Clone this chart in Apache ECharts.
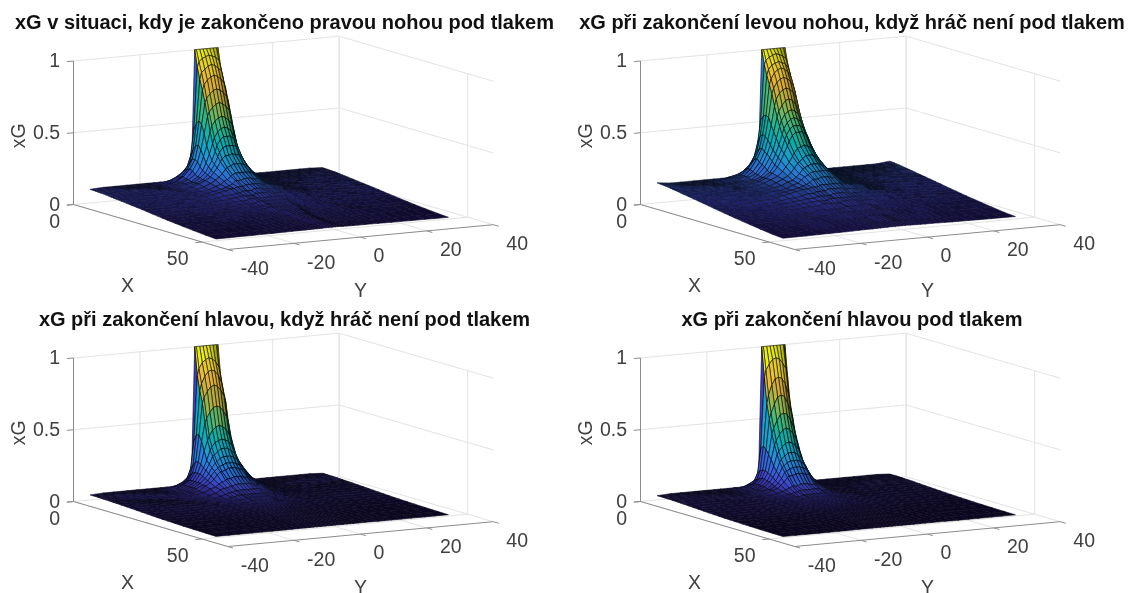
<!DOCTYPE html>
<html><head><meta charset="utf-8">
<style>html,body{margin:0;padding:0;background:#fff}#c{width:1128px;height:593px}</style>
<script src="https://cdn.jsdelivr.net/npm/echarts@6/dist/echarts.min.js"></script>
</head><body><div id="c"></div>
<script>
const titles=["xG v situaci, kdy je zakončeno pravou nohou pod tlakem","xG při zakončení levou nohou, když hráč není pod tlakem","xG při zakončení hlavou, když hráč není pod tlakem","xG při zakončení hlavou pod tlakem"];
const xTicks=[0,50], yTicks=[-40,-20,0,20,40], zTicks=[0,0.5,1];
const zTickLabels=["0","0.5","1"];
const xRows=[0,1,2,3,4,5,6,7,8,9,10,12,14,16,18,20,22,24,26,28,30,33,36,40,45,49];
const yCols=[0,1,2,3,3.5,4.5,5.5,6.5,8,10,12,14,16,18,21,24,28,31,35];
// xG in percent, row = X, column = |Y|
const zRightFootPressure=[
[100,100,100,100,100,14,13,12,11,10,10,10,10,10,10,10,10,10,9.5],
[96,95,94,92,88,45,27,20,16,13,11,10,10,10,10,10,10,10,9.4],
[90,89,87,85,80,50,32,23,18,14,12,11,10,10,10,10,10,10,9.3],
[83,82,80,77,73,52,35,26,19,14,11,10,10,10,10,10,10,10,9.2],
[74,73,71,68,65,50,36,26,20,15,12,11,10,10,10,10,10,10,9.1],
[65,64,62,59,56,44,33,25,19,14,12,11,10,10,10,10,10,10,9],
[56,55,53,50,46,36,29,22,17,14,12,11,10,10,10,10,10,9,8.8],
[49,48,46,42,38,31,25,20,16,13,12,11,10,10,10,10,10,9,8.6],
[43,43,41,37,33,27,23,19,16,13,12,11,10,10,10,10,9,9,8.4],
[37,37,36,33,30,25,21,18,15,13,11,10,10,10,10,9,9,9,8.2],
[32,31,31,29,27,23,20,17,15,13,11,10,10,10,10,9,9,9,8],
[26,26,25,24,23,20,18,16,14,12,11,10,10,10,9,9,9,8,7.6],
[21,21,21,20,19,17,16,14,13,11,10,10,9,9,9,8,8,8,7.2],
[18,18,17,17,17,15,14,13,12,11,10,9,9,9,8,8,8,7,6.8],
[15,15,15,14,14,14,13,13,12,11,10,9,9,8,8,7,7,7,6.4],
[13,13,12,12,12,12,11,11,10,10,9,8,8,8,7,7,6,6,6],
[11,11,11,10,10,10,10,10,9,9,8,8,7,7,7,6,6,6,5.5],
[9,9,9,9,9,9,9,8,8,8,7,7,7,6,6,6,5,5,5],
[8,8,8,8,8,8,7,7,7,7,6,6,6,6,5,5,5,5,4.6],
[7,7,7,7,7,6,6,6,6,6,6,5,5,5,5,5,4,4,4.1],
[6,6,6,6,6,6,5,5,5,5,5,5,5,4,4,4,4,4,3.7],
[5,5,5,5,4,4,4,4,4,4,4,4,4,4,3,3,3,3,3.1],
[4,4,4,3,3,3,3,3,3,3,3,3,3,3,3,3,3,3,2.5],
[3,3,3,2,2,2,2,2,2,2,2,2,2,2,2,2,2,2,1.8],
[2,2,2,1.5,1.5,1.5,1.5,1.4,1.4,1.4,1.3,1.3,1.3,1.2,1.2,1.2,1.1,1.1,1],
[1.2,1.2,1.2,1.1,1.1,1,1,1,.9,.9,.9,.8,.8,.7,.7,.6,.6,.5,.5]];
const zLeftFootFree=[
[100,100,100,100,100,20,18,16,15,14,14,13,13,13,13,13,13,13,14],
[97,96,95,93,90,52,36,27,21,17,15,14,13,13,13,13,13,13,13.9],
[92,91,90,87,83,55,41,31,24,19,16,14,14,13,13,13,13,13,13.7],
[88,87,85,81,77,56,43,33,26,20,16,15,14,13,13,13,13,13,13.5],
[82,81,79,75,71,55,42,34,27,20,16,15,14,13,13,13,13,13,13.3],
[75,74,72,68,63,50,40,32,25,19,16,15,14,13,13,13,13,13,13],
[68,67,64,60,56,46,37,31,24,18,16,14,14,13,13,13,13,13,12.7],
[61,60,58,54,50,42,34,29,23,18,15,14,14,13,13,13,13,13,12.4],
[56,55,53,49,45,38,32,27,21,17,15,14,14,13,13,13,13,12,12.1],
[51,51,49,45,42,35,30,25,20,17,15,14,13,13,13,13,12,12,11.8],
[47,47,45,41,38,33,28,24,20,17,15,14,13,13,13,13,12,12,11.5],
[39,38,37,34,32,28,25,22,19,17,15,14,13,12,12,12,12,11,10.9],
[33,33,31,29,28,25,22,20,18,16,14,13,13,12,12,12,11,11,10.3],
[28,28,27,26,25,22,20,18,17,15,14,13,12,12,12,11,11,10,9.7],
[24,24,24,23,22,21,19,17,16,14,13,13,12,11,11,11,10,10,9.1],
[21,21,20,20,20,18,17,16,15,14,13,12,11,11,10,10,9,9,8.5],
[17,17,17,17,16,16,16,15,15,14,13,12,11,10,10,9,8,8,7.8],
[15,15,15,14,14,14,14,13,13,12,11,11,10,9,9,8,8,7,7.2],
[13,13,13,12,12,12,12,12,11,11,10,10,9,9,8,8,7,7,6.6],
[11,11,11,11,11,11,10,10,10,10,9,9,8,8,7,7,6,6,6],
[10,10,10,9,9,9,9,9,9,8,8,8,7,7,7,6,6,6,5.4],
[8,8,8,8,8,7,7,7,7,7,7,6,6,6,6,5,5,5,4.6],
[6,6,6,6,6,6,6,6,6,5,5,5,5,5,5,4,4,4,3.8],
[5,5,5,4,4,4,4,4,4,4,4,4,4,4,3,3,3,3,2.8],
[3,3,3,3,3,3,3,3,3,2.8,2.6,2.5,2.4,2.3,2.2,2,1.9,1.8,1.6],
[2,2,2,2,1.9,1.9,1.8,1.8,1.7,1.7,1.6,1.5,1.4,1.4,1.3,1.2,1.1,1.1,1]];
const zHeaderFree=[
[100,100,100,100,100,7,6,5,4,4,4,4,4,4,4,4,4,4,3.5],
[92,91,89,85,80,35,16,10,7,5,4,4,4,4,4,4,4,4,3.5],
[84,83,80,75,70,40,19,12,8,6,5,4,4,4,4,4,4,4,3.5],
[74,73,70,66,62,40,22,14,9,6,5,4,4,4,4,4,4,4,3.4],
[60,59,56,52,49,36,22,15,10,7,5,4,4,4,4,4,4,4,3.4],
[47,46,44,40,37,30,21,15,10,7,5,4,4,4,4,4,4,4,3.3],
[38,37,36,33,31,24,19,15,10,7,5,4,4,4,4,4,4,3,3.3],
[32,32,30,28,27,22,18,14,10,7,5,4,4,4,4,4,3,3,3.2],
[27,27,26,24,23,20,16,13,10,7,5,4,4,4,4,3,3,3,3.1],
[23,23,22,21,20,18,15,12,9,7,5,4,4,4,3,3,3,3,3],
[20,20,19,18,18,16,13,11,9,6,5,4,4,3,3,3,3,3,3],
[15,15,14,14,13,12,11,9,8,6,5,4,3,3,3,3,3,3,2.8],
[11,11,11,10,10,9,9,8,6,5,4,4,3,3,3,3,3,3,2.6],
[8,8,8,8,8,7,7,6,5,4,4,3,3,3,3,3,3,2.6,2.4],
[6,6,6,6,6,6,5,5,4,4,3,3,3,3,2.8,2.7,2.6,2.4,2.2],
[5,5,5,5,5,4,4,4,4,3,3,3,3,2.6,2.5,2.4,2.3,2.2,2],
[4,4,4,4,4,3,3,3,3,3,2.8,2.6,2.5,2.4,2.3,2.2,2.1,2,1.8],
[3,3,3,3,3,3,3,3,2.6,2.5,2.4,2.3,2.2,2.1,2,1.9,1.8,1.7,1.6],
[2.6,2.6,2.6,2.5,2.5,2.4,2.4,2.3,2.2,2.2,2.1,2,1.9,1.8,1.7,1.6,1.5,1.5,1.4],
[2.2,2.2,2.2,2.1,2.1,2.1,2,2,1.9,1.9,1.8,1.7,1.7,1.6,1.5,1.4,1.3,1.3,1.2],
[1.9,1.9,1.9,1.8,1.8,1.8,1.7,1.7,1.6,1.6,1.5,1.5,1.4,1.4,1.3,1.2,1.2,1.1,1.1],
[1.5,1.5,1.5,1.5,1.4,1.4,1.4,1.4,1.3,1.3,1.2,1.2,1.2,1.1,1.1,1,1,.9,.9],
[1.1,1.1,1.1,1.1,1.1,1.1,1,1,1,1,1,.9,.9,.9,.8,.8,.8,.7,.7],
[.8,.8,.8,.8,.8,.8,.8,.7,.7,.7,.7,.7,.6,.6,.6,.6,.5,.5,.5],
[.5,.5,.5,.5,.5,.5,.5,.4,.4,.4,.4,.4,.4,.4,.4,.3,.3,.3,.3],
[.3,.3,.3,.3,.3,.3,.3,.3,.3,.3,.3,.2,.2,.2,.2,.2,.2,.2,.2]];
const zHeaderPressure=[
[100,100,100,100,100,6,5,4,4,3.5,3.5,3.5,3.5,3.5,3.5,3.5,3.5,3.5,3],
[92,91,88,84,79,30,13,8,6,4,4,3.5,3.5,3.5,3.5,3.5,3.5,3.5,3],
[79,78,74,67,61,32,15,9,6,5,4,3.5,3.5,3.5,3.5,3.5,3.5,3.5,3],
[67,66,61,55,51,30,16,10,7,5,4,3.5,3.5,3.5,3.5,3.5,3.5,3.5,3],
[55,54,50,45,41,27,16,11,7,5,4,3.5,3.5,3.5,3.5,3.5,3.5,3.5,2.9],
[45,44,41,37,34,24,15,11,7,5,4,3.5,3.5,3.5,3.5,3.5,3.5,3.5,2.9],
[36,35,33,30,28,20,14,10,7,5,4,3.5,3.5,3.5,3.5,3.5,3.5,3,2.8],
[29,29,27,25,23,17,13,10,7,5,4,3.5,3.5,3.5,3.5,3.5,3,3,2.8],
[24,24,23,21,20,15,11,9,6,5,4,3.5,3.5,3.5,3.5,3,3,3,2.7],
[20,20,19,18,17,13,10,8,6,5,4,3.5,3.5,3.5,3,3,3,3,2.6],
[16,16,15,15,14,11,9,7,6,4,3.5,3.5,3.5,3,3,3,3,2.8,2.5],
[10,10,9,9,9,8,7,6,5,4,3.5,3,3,3,2.8,2.7,2.6,2.5,2.3],
[7,7,7,7,6,6,5,5,4,3.5,3,3,2.8,2.7,2.6,2.5,2.4,2.3,2.1],
[5,5,5,5,5,4,4,4,3.5,3,3,2.7,2.6,2.5,2.4,2.3,2.2,2.1,1.9],
[4,4,4,4,4,3.5,3.5,3,3,3,2.6,2.5,2.4,2.3,2.2,2.1,2,1.9,1.7],
[3,3,3,3,3,3,3,3,2.6,2.5,2.4,2.3,2.2,2.1,2,1.9,1.8,1.7,1.5],
[2.4,2.4,2.4,2.4,2.4,2.3,2.3,2.2,2.2,2.1,2,1.9,1.9,1.8,1.7,1.6,1.5,1.4,1.3],
[2,2,2,2,2,1.9,1.9,1.9,1.8,1.8,1.7,1.7,1.6,1.5,1.5,1.4,1.3,1.2,1.2],
[1.7,1.7,1.7,1.7,1.6,1.6,1.6,1.6,1.5,1.5,1.5,1.4,1.4,1.3,1.3,1.2,1.1,1.1,1],
[1.4,1.4,1.4,1.4,1.4,1.4,1.3,1.3,1.3,1.3,1.2,1.2,1.2,1.1,1.1,1,1,.9,.9],
[1.2,1.2,1.2,1.2,1.2,1.1,1.1,1.1,1.1,1.1,1,1,1,.9,.9,.9,.8,.8,.8],
[.9,.9,.9,.9,.9,.9,.9,.9,.8,.8,.8,.8,.8,.7,.7,.7,.7,.6,.6],
[.7,.7,.7,.7,.7,.7,.7,.6,.6,.6,.6,.6,.6,.6,.5,.5,.5,.5,.5],
[.5,.5,.5,.5,.5,.5,.5,.4,.4,.4,.4,.4,.4,.4,.4,.4,.3,.3,.3],
[.3,.3,.3,.3,.3,.3,.3,.3,.3,.3,.3,.3,.2,.2,.2,.2,.2,.2,.2],
[.2,.2,.2,.2,.2,.2,.2,.2,.2,.2,.2,.2,.1,.1,.1,.1,.1,.1,.1]];
const surfaces=[zRightFootPressure,zLeftFootFree,zHeaderFree,zHeaderPressure];
const parulaStops=[[62,38,168],[72,82,244],[46,135,247],[28,169,223],[6,186,192],[47,192,145],[112,198,107],[187,188,65],[240,186,60],[251,217,45],[249,251,21]];

// view: fixed orthographic projection of the 3D axes box into the page scale
const panelOrigin=[[0,0],[567,0],[0,297],[567,297]];
const xLimit=60;
function project(p,X,Y,Z){
  const o=panelOrigin[p];
  return [73.5+o[0]+X*2.57+(Y+40)*3.32, 204.5+o[1]+X*0.75-(Y+40)*0.31-Z*143.5];
}
function parula(z){
  const t=Math.max(0,Math.min(1,z))*10, i=Math.min(9,Math.floor(t)), f=t-i;
  return parulaStops[i].map((c,k)=>c+(parulaStops[i+1][k]-c)*f);
}
const meshY=yCols.slice(1).reverse().map(v=>-v).concat(yCols);
function zAt(p,r,c){return surfaces[p][r][Math.abs(c-(yCols.length-1))]/100;}

// cells, back to front
const cells=[];
for(let p=0;p<4;p++) for(let r=0;r<xRows.length-1;r++) for(let c=meshY.length-2;c>=0;c--) cells.push([p,r,c]);

function renderCell(params,api){
  const p=api.value(0),r=api.value(1),c=api.value(2);
  const X0=xRows[r],X1=xRows[r+1],Y0=meshY[c],Y1=meshY[c+1];
  const P=[[X0,Y0,r,c],[X1,Y0,r+1,c],[X1,Y1,r+1,c+1],[X0,Y1,r,c+1]].map(q=>api.coord(project(p,q[0],q[1],zAt(p,q[2],q[3]))));
  // darkening from the fine black mesh of the original surface: how much a mesh cell shows of its fill
  const r0=Math.max(1,r-2),r1=Math.min(xRows.length-1,r+3),c0=Math.max(0,c-1),c1=Math.min(meshY.length-1,c+2);
  const sx=(zAt(p,r1,c)-zAt(p,r0,c))/(xRows[r1]-xRows[r0]);
  const rs=Math.max(r,1), sy=(zAt(p,rs,c1)-zAt(p,rs,c0))/(meshY[c1]-meshY[c0]);
  const ax=2.57,ay=0.75-143.5*sx,bx=3.32*0.73,by=(-0.31-143.5*sy)*0.73;
  const area=Math.abs(ax*by-ay*bx)+0.01,a=Math.hypot(ax,ay),b=Math.hypot(bx,by);
  const w=0.5,f0=Math.max(0,1-w*a/area)*Math.max(0,1-w*b/area);
  const f=Math.min(1,Math.max(0.16,1.3*Math.pow(f0,1.4)));
  const col=parula(zAt(p,r,c)).map(v=>v*f);
  const t=Math.max(0,Math.min(1,(f-0.3)/0.3));
  const st=col.map(v=>v*(1-t));
  return {type:'polygon',shape:{points:P},silent:true,
    style:{fill:`rgb(${col.map(Math.round)})`,stroke:`rgb(${st.map(Math.round)})`,lineWidth:0.6}};
}

// axes box: segments [panel, X1,Y1,Z1, X2,Y2,Z2]
const gridSegs=[],axisSegs=[];
for(let p=0;p<4;p++){
  zTicks.forEach(z=>{ if(z>0){gridSegs.push([p,0,-40,z,0,40,z]);gridSegs.push([p,0,40,z,xLimit,40,z]);}});
  yTicks.forEach(y=>{ gridSegs.push([p,0,y,0,0,y,1]); gridSegs.push([p,0,y,0,xLimit,y,0]);});
  xTicks.forEach(x=>{ gridSegs.push([p,x,-40,0,x,40,0]); gridSegs.push([p,x,40,0,x,40,1]);});
  axisSegs.push([p,0,-40,0,0,-40,1]);
  axisSegs.push([p,0,-40,0,xLimit,-40,0]);
  axisSegs.push([p,xLimit,-40,0,xLimit,40,0]);
  zTicks.forEach(z=>axisSegs.push([p,0,-40,z,0,-42,z]));
  xTicks.forEach(x=>axisSegs.push([p,x,-40,0,x,-42,0]));
  yTicks.forEach(y=>axisSegs.push([p,xLimit,y,0,xLimit+2.1,y,0]));
}
function renderSeg(color){return function(params,api){
  const a=api.coord(project(api.value(0),api.value(1),api.value(2),api.value(3)));
  const b=api.coord(project(api.value(0),api.value(4),api.value(5),api.value(6)));
  return {type:'line',shape:{x1:a[0],y1:a[1],x2:b[0],y2:b[1]},silent:true,style:{stroke:color,lineWidth:1}};
};}

// labels
const texts=[];
for(let p=0;p<4;p++){
  zTicks.forEach((z,i)=>texts.push({p,X:0,Y:-40,Z:z,dx:-13.5,dy:1,t:zTickLabels[i],a:'right'}));
  xTicks.forEach(x=>texts.push({p,X:x,Y:-40,Z:0,dx:-13.5,dy:18,t:String(x),a:'right'}));
  yTicks.forEach(y=>texts.push({p,X:xLimit,Y:y,Z:0,dx:13,dy:20,t:String(y),a:'left'}));
  texts.push({p,X:xLimit/2,Y:-40,Z:0,dx:-23,dy:60,t:'X',a:'center'});
  texts.push({p,X:xLimit,Y:0,Z:0,dx:0,dy:55,t:'Y',a:'center'});
  texts.push({p,X:0,Y:-40,Z:0.5,dx:-53.5,dy:3,t:'xG',a:'center',r:Math.PI/2});
}
function renderText(params,api){
  const d=texts[api.value(0)];
  const q=api.coord(project(d.p,d.X,d.Y,d.Z));
  return {type:'text',x:q[0]+d.dx,y:q[1]+d.dy,rotation:d.r||0,silent:true,
    style:{text:d.t,fontSize:19.5,fontFamily:'Liberation Sans',fill:'#404040',align:d.a,verticalAlign:'middle'}};
}

const chart=echarts.init(document.getElementById('c'),null,{renderer:'canvas'});
chart.setOption({
  animation:false,backgroundColor:'#fff',
  title:titles.map((t,i)=>({text:t,left:i%2?847:279.5,top:i<2?8:305,textAlign:'center',
    textStyle:{fontFamily:'Liberation Sans',fontWeight:'bold',fontSize:20,color:'#111'}})),
  grid:{left:0,right:0,top:0,bottom:0},
  xAxis:{type:'value',min:0,max:1128,show:false},
  yAxis:{type:'value',min:0,max:593,inverse:true,show:false},
  series:[
    {type:'custom',coordinateSystem:'cartesian2d',renderItem:renderSeg('#e3e3e3'),data:gridSegs,silent:true,z:1,clip:false},
    {type:'custom',coordinateSystem:'cartesian2d',renderItem:renderSeg('#8c8c8c'),data:axisSegs,silent:true,z:2,clip:false},
    {type:'custom',coordinateSystem:'cartesian2d',renderItem:renderCell,data:cells,silent:true,z:3,clip:false,progressive:0},
    {type:'custom',coordinateSystem:'cartesian2d',renderItem:renderText,data:texts.map((d,i)=>[i]),silent:true,z:4,clip:false}
  ]
});
</script></body></html>
